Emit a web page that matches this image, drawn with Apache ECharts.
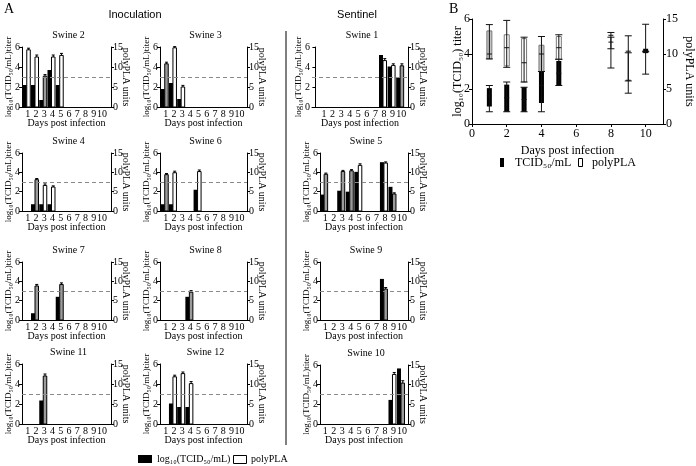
<!DOCTYPE html>
<html><head><meta charset="utf-8">
<script src="https://cdn.jsdelivr.net/npm/echarts@6/dist/echarts.min.js"></script>
<style>html,body{margin:0;padding:0;background:#fff}#c{width:696px;height:466px}</style>
</head><body><div id="c"></div>
<script>
// ---------------- Panel A data ----------------
const days = [1, 2, 3, 4, 5, 6, 7, 8, 9, 10];
const N = null;
const titerSwine2 = [2.2, 2.2, 0.7, 3.7, 2.2, N, N, N, N, N];
const polySwine2  = [14.3, 12.5, 7.7, 12.5, 12.9, N, N, N, N, N];
const errSwine2   = [0.4, 0.5, 0.4, 0.5, 0.5, N, N, N, N, N];
const titerSwine3 = [1.8, 2.4, 0.8, N, N, N, N, N, N, N];
const polySwine3  = [10.8, 14.8, 5.0, N, N, N, N, N, N, N];
const errSwine3   = [0.4, 0.3, 0.4, N, N, N, N, N, N, N];
const titerSwine1 = [N, N, N, N, N, N, N, 5.2, 4.05, 2.9];
const polySwine1  = [N, N, N, N, N, N, N, 11.6, 10.4, 10.3];
const errSwine1   = [N, N, N, N, N, N, N, 0.5, 0.4, 0.5];
const titerSwine4 = [N, 0.7, 0.7, 0.7, N, N, N, N, N, N];
const polySwine4  = [N, 8.1, 6.6, 6.2, N, N, N, N, N, N];
const errSwine4   = [N, 0.3, 0.4, 0.3, N, N, N, N, N, N];
const titerSwine6 = [0.7, 0.7, N, N, 2.2, N, N, N, N, N];
const polySwine6  = [9.4, 9.9, N, N, 10.2, N, N, N, N, N];
const errSwine6   = [0.3, 0.4, N, N, 0.4, N, N, N, N, N];
const titerSwine5 = [1.7, N, 2.1, 2.0, 4.05, N, N, 5.05, 2.5, N];
const polySwine5  = [9.5, N, 10.2, 10.4, 11.8, N, N, 12.4, 4.4, N];
const errSwine5   = [0.3, N, 0.3, 0.3, 0.4, N, N, 0.3, 0.3, N];
const titerSwine7 = [N, 0.7, N, N, 2.4, N, N, N, N, N];
const polySwine7  = [N, 8.8, N, N, 9.2, N, N, N, N, N];
const errSwine7   = [N, 0.4, N, N, 0.4, N, N, N, N, N];
const titerSwine8 = [N, N, N, 2.4, N, N, N, N, N, N];
const polySwine8  = [N, N, N, 7.2, N, N, N, N, N, N];
const errSwine8   = [N, N, N, 0.4, N, N, N, N, N, N];
const titerSwine9 = [N, N, N, N, N, N, N, 4.25, N, N];
const polySwine9  = [N, N, N, N, N, N, N, 8.0, N, N];
const errSwine9   = [N, N, N, N, N, N, N, 0.4, N, N];
const titerSwine11 = [N, N, 2.35, N, N, N, N, N, N, N];
const polySwine11  = [N, N, 12.0, N, N, N, N, N, N, N];
const errSwine11   = [N, N, 0.5, N, N, N, N, N, N, N];
const titerSwine12 = [N, 2.05, 1.7, 1.7, N, N, N, N, N, N];
const polySwine12  = [N, 11.8, 12.6, 10.1, N, N, N, N, N, N];
const errSwine12   = [N, 0.4, 0.4, 0.5, N, N, N, N, N, N];
const titerSwine10 = [N, N, N, N, N, N, N, N, 2.45, 5.65];
const polySwine10  = [N, N, N, N, N, N, N, N, 12.6, 10.4];
const errSwine10   = [N, N, N, N, N, N, N, N, 0.5, 0.6];
// days whose polyPLA bar is shaded grey in the figure
const shadedDays = {
  'Swine 2': [3], 'Swine 3': [1], 'Swine 1': [10], 'Swine 4': [2], 'Swine 6': [1],
  'Swine 5': [1, 3, 4, 9], 'Swine 7': [2, 5], 'Swine 8': [4], 'Swine 9': [8],
  'Swine 11': [3], 'Swine 12': [], 'Swine 10': [10]
};
const thresholdTiter = 3;
const titerTicks = [0, 2, 4, 6];
const polyTicks = [0, 5, 10, 15];

const panels = [
  ['Swine 2', titerSwine2, polySwine2, errSwine2],
  ['Swine 3', titerSwine3, polySwine3, errSwine3],
  ['Swine 1', titerSwine1, polySwine1, errSwine1],
  ['Swine 4', titerSwine4, polySwine4, errSwine4],
  ['Swine 6', titerSwine6, polySwine6, errSwine6],
  ['Swine 5', titerSwine5, polySwine5, errSwine5],
  ['Swine 7', titerSwine7, polySwine7, errSwine7],
  ['Swine 8', titerSwine8, polySwine8, errSwine8],
  ['Swine 9', titerSwine9, polySwine9, errSwine9],
  ['Swine 11', titerSwine11, polySwine11, errSwine11],
  ['Swine 12', titerSwine12, polySwine12, errSwine12],
  ['Swine 10', titerSwine10, polySwine10, errSwine10]
];

// ---------------- Panel B data ----------------
const daysB = [1, 2, 3, 4, 5, 8, 9, 10];
// [min, q1, median, q3, max]
const titerStatsB = [
  [0.7, 1.0, 1.6, 2.05, 2.2],
  [0.7, 0.7, 1.5, 2.25, 2.4],
  [0.7, 0.7, 1.4, 2.1, 2.1],
  [0.7, 1.2, 2.2, 3.0, 3.0],
  [2.2, 2.2, 2.9, 3.6, 3.7],
  [4.3, 5.07, 5.07, 5.07, 5.23],
  [2.46, 2.5, 2.5, 2.5, 4.07],
  [2.85, 4.05, 4.15, 4.3, 5.7]
];
const polyStatsB = [
  [9.3, 9.3, 10.0, 13.3, 14.2],
  [8.1, 8.3, 10.9, 12.75, 14.8],
  [6.0, 6.0, 8.75, 12.2, 12.4],
  [7.5, 7.5, 10.0, 11.25, 12.5],
  [9.25, 9.25, 10.9, 12.5, 12.75],
  [8.0, 11.7, 11.7, 11.7, 12.4],
  [4.4, 10.4, 10.4, 10.4, 12.6],
  [10.3, 10.35, 10.35, 10.35, 10.4]
];
const shadedDaysB = [1, 4];
const xTicksB = [0, 2, 4, 6, 8, 10];

// ---------------- layout ----------------
const layoutA = [
  {l: 22, t: 47, w: 89, h: 60, xmin: 0.3, xmax: 11.1},
  {l: 160, t: 47, w: 87, h: 60, xmin: 0.3, xmax: 10.9},
  {l: 312, t: 47, w: 96, h: 60, xmin: -0.4, xmax: 10.8},
  {l: 22, t: 153, w: 89, h: 58, xmin: 0.3, xmax: 11.1},
  {l: 160, t: 153, w: 87, h: 58, xmin: 0.3, xmax: 10.9},
  {l: 320, t: 153, w: 88, h: 58, xmin: 0.4, xmax: 10.7},
  {l: 22, t: 262, w: 89, h: 58, xmin: 0.3, xmax: 11.1},
  {l: 160, t: 262, w: 87, h: 58, xmin: 0.3, xmax: 10.9},
  {l: 320, t: 262, w: 88, h: 58, xmin: 0.4, xmax: 10.7},
  {l: 22, t: 364, w: 89, h: 60, xmin: 0.3, xmax: 11.1},
  {l: 160, t: 364, w: 87, h: 60, xmin: 0.3, xmax: 10.9},
  {l: 320, t: 365, w: 88, h: 59, xmin: 0.4, xmax: 10.7}
];
const layoutB = {l: 472, t: 19, w: 191, h: 105};

const SERIF = '"Liberation Serif", "DejaVu Serif", serif';
const SANS = '"Liberation Sans", Arial, sans-serif';

const grid = [], xAxis = [], yAxis = [], series = [], graphic = [];

function txt(x, y, s, size, family, align) {
  graphic.push({type: 'text', x: x, y: y, silent: true,
    style: {text: s, font: size + 'px ' + family, fill: '#000',
      align: align || 'center', verticalAlign: 'middle',
      textAlign: align || 'center', textVerticalAlign: 'middle'}});
}

panels.forEach(function (p, i) {
  const L = layoutA[i];
  const name = p[0], titer = p[1], poly = p[2], err = p[3];
  const shaded = shadedDays[name];
  grid.push({left: L.l, top: L.t, width: L.w, height: L.h});
  const axisStyle = {lineStyle: {color: '#000', width: 1}};
  xAxis.push({
    gridIndex: i, type: 'value', min: L.xmin, max: L.xmax,
    axisLine: {show: true, onZero: false, lineStyle: {color: '#000'}},
    axisTick: {show: false}, splitLine: {show: false},
    axisLabel: {customValues: days, color: '#000', fontFamily: SERIF, fontSize: 10, margin: 2},
    name: 'Days post infection', nameLocation: 'middle', nameGap: 11, nameMoveOverlap: false,
    nameTextStyle: {color: '#000', fontFamily: SERIF, fontSize: 10}
  });
  yAxis.push({
    gridIndex: i, type: 'value', min: 0, max: 6, interval: 2, position: 'left',
    axisLine: Object.assign({show: true}, axisStyle),
    axisTick: {show: true, length: 3, lineStyle: {color: '#000'}},
    splitLine: {show: false},
    axisLabel: {customValues: titerTicks, color: '#000', fontFamily: SERIF, fontSize: 10, margin: 2},
    name: 'log\u2081\u2080(TCID\u2085\u2080/mL)titer', nameLocation: 'middle', nameRotate: 90, nameGap: 9,
    nameMoveOverlap: false,
    nameTextStyle: {color: '#000', fontFamily: SERIF, fontSize: 9}
  });
  yAxis.push({
    gridIndex: i, type: 'value', min: 0, max: 15, interval: 5, position: 'right',
    axisLine: Object.assign({show: true}, axisStyle),
    axisTick: {show: true, length: 3, lineStyle: {color: '#000'}},
    splitLine: {show: false},
    axisLabel: {customValues: polyTicks, color: '#000', fontFamily: SERIF, fontSize: 10, margin: 2},
    name: 'polyPLA units', nameLocation: 'middle', nameRotate: -90, nameGap: 10,
    nameMoveOverlap: false,
    nameTextStyle: {color: '#000', fontFamily: SERIF, fontSize: 10}
  });
  const tData = [], pData = [];
  days.forEach(function (d, k) {
    if (titer[k] != null) tData.push([d, titer[k]]);
    if (poly[k] != null) pData.push([d, poly[k], err[k]]);
  });
  series.push({
    type: 'custom', xAxisIndex: i, yAxisIndex: 2 * i, data: tData, encode: {x: 0, y: 1},
    silent: true, z: 2,
    renderItem: function (params, api) {
      const d = api.value(0), v = api.value(1);
      const top = api.coord([d, v]), base = api.coord([d, 0]);
      return {type: 'rect', shape: {x: top[0] - 5, y: top[1], width: 4, height: base[1] - top[1]},
        style: {fill: '#000'}};
    },
    markLine: {silent: true, symbol: ['none', 'none'], label: {show: false},
      lineStyle: {color: '#8a8a8a', type: [4, 3], width: 1},
      data: [{yAxis: thresholdTiter}]}
  });
  series.push({
    type: 'custom', xAxisIndex: i, yAxisIndex: 2 * i + 1, data: pData, encode: {x: 0, y: 1},
    silent: true, z: 3,
    renderItem: function (params, api) {
      const d = api.value(0), v = api.value(1), e = api.value(2);
      const top = api.coord([d, v]), base = api.coord([d, 0]), et = api.coord([d, v + e]);
      const x0 = top[0] - 1, w = 3.5, cx = x0 + w / 2;
      const isShaded = shaded.indexOf(d) >= 0;
      return {type: 'group', children: [
        {type: 'rect', shape: {x: x0, y: top[1], width: w, height: base[1] - top[1]},
          style: {fill: isShaded ? '#9b9b9b' : '#fff', stroke: '#000', lineWidth: 1}},
        {type: 'line', shape: {x1: cx, y1: top[1], x2: cx, y2: et[1]}, style: {stroke: '#000', lineWidth: 1}},
        {type: 'line', shape: {x1: cx - 1.5, y1: et[1], x2: cx + 1.5, y2: et[1]}, style: {stroke: '#000', lineWidth: 1}}
      ]};
    }
  });
  txt(L.l + L.w / 2 + 2, L.t - 12, name, 10, SERIF);
});

// ---------------- Panel B ----------------
const gi = panels.length;
grid.push({left: layoutB.l, top: layoutB.t, width: layoutB.w, height: layoutB.h});
xAxis.push({
  gridIndex: gi, type: 'value', min: 0, max: 11,
  axisLine: {show: true, onZero: false, lineStyle: {color: '#000'}},
  axisTick: {show: true, customValues: xTicksB, length: 3, lineStyle: {color: '#000'}},
  splitLine: {show: false},
  axisLabel: {customValues: xTicksB, color: '#000', fontFamily: SERIF, fontSize: 12, margin: 4},
  name: 'Days post infection', nameLocation: 'middle', nameGap: 21, nameMoveOverlap: false,
  nameTextStyle: {color: '#000', fontFamily: SERIF, fontSize: 12}
});
yAxis.push({
  gridIndex: gi, type: 'value', min: 0, max: 6, interval: 2, position: 'left',
  axisLine: {show: true, lineStyle: {color: '#000'}},
  axisTick: {show: true, length: 3, lineStyle: {color: '#000'}}, splitLine: {show: false},
  axisLabel: {customValues: titerTicks, color: '#000', fontFamily: SERIF, fontSize: 12, margin: 2},
  name: 'log\u2081\u2080(TCID\u2085\u2080) titer', nameLocation: 'middle', nameRotate: 90, nameGap: 8,
  nameMoveOverlap: false,
  nameTextStyle: {color: '#000', fontFamily: SERIF, fontSize: 12}
});
yAxis.push({
  gridIndex: gi, type: 'value', min: 0, max: 15, interval: 5, position: 'right',
  axisLine: {show: true, lineStyle: {color: '#000'}},
  axisTick: {show: true, length: 3, lineStyle: {color: '#000'}}, splitLine: {show: false},
  axisLabel: {customValues: polyTicks, color: '#000', fontFamily: SERIF, fontSize: 12, margin: 3},
  name: 'polyPLA units', nameLocation: 'middle', nameRotate: -90, nameGap: 20,
  nameMoveOverlap: false,
  nameTextStyle: {color: '#000', fontFamily: SERIF, fontSize: 12}
});
function boxRender(kind) {
  return function (params, api) {
    const d = api.value(0);
    const pMin = api.coord([d, api.value(1)]), pQ1 = api.coord([d, api.value(2)]);
    const pMed = api.coord([d, api.value(3)]), pQ3 = api.coord([d, api.value(4)]);
    const pMax = api.coord([d, api.value(5)]);
    const cx = pMin[0], bw = 5, cw = 7;
    const children = [];
    if (pQ1[1] - pQ3[1] > 0.5) {
      const shaded = shadedDaysB.indexOf(d) >= 0;
      children.push({type: 'rect', shape: {x: cx - bw / 2, y: pQ3[1], width: bw, height: pQ1[1] - pQ3[1]},
        style: kind === 'titer' ? {fill: '#000'} :
          {fill: shaded ? '#c4c4c4' : '#fff', stroke: '#777', lineWidth: 1}});
    }
    const ln = function (x1, y1, x2, y2) {
      children.push({type: 'line', shape: {x1: x1, y1: y1, x2: x2, y2: y2}, style: {stroke: '#111', lineWidth: 1}});
    };
    ln(cx, pMin[1], cx, pMax[1]);
    ln(cx - cw / 2, pMin[1], cx + cw / 2, pMin[1]);
    ln(cx - cw / 2, pMax[1], cx + cw / 2, pMax[1]);
    ln(cx - cw / 2 + 1, pMed[1], cx + cw / 2 - 1, pMed[1]);
    return {type: 'group', children: children};
  };
}
series.push({
  type: 'custom', xAxisIndex: gi, yAxisIndex: 2 * gi, silent: true, encode: {x: 0, y: [1, 5]},
  data: daysB.map(function (d, k) { return [d].concat(titerStatsB[k]); }),
  renderItem: boxRender('titer')
});
series.push({
  type: 'custom', xAxisIndex: gi, yAxisIndex: 2 * gi + 1, silent: true, encode: {x: 0, y: [1, 5]},
  data: daysB.map(function (d, k) { return [d].concat(polyStatsB[k]); }),
  renderItem: boxRender('poly')
});

// ---------------- texts / legend ----------------
txt(4, 9, 'A', 14, SERIF, 'left');
txt(449, 9, 'B', 14, SERIF, 'left');
txt(135, 15, 'Inoculation', 11, SANS);
txt(357, 15, 'Sentinel', 11, SANS);
graphic.push({type: 'line', silent: true, shape: {x1: 286, y1: 31, x2: 286, y2: 445}, style: {stroke: '#000', lineWidth: 1}});
// legend A
graphic.push({type: 'rect', silent: true, shape: {x: 138, y: 455, width: 14, height: 8}, style: {fill: '#000'}});
txt(157, 459, 'log\u2081\u2080(TCID\u2085\u2080/mL)', 10, SERIF, 'left');
graphic.push({type: 'rect', silent: true, shape: {x: 233.5, y: 455.5, width: 13, height: 8}, style: {fill: '#fff', stroke: '#000', lineWidth: 1}});
txt(251, 459, 'polyPLA', 10, SERIF, 'left');
// legend B
graphic.push({type: 'rect', silent: true, shape: {x: 500, y: 158, width: 4, height: 9}, style: {fill: '#000'}});
txt(515, 163, 'TCID\u2085\u2080/mL', 12, SERIF, 'left');
graphic.push({type: 'rect', silent: true, shape: {x: 578.5, y: 158.5, width: 4, height: 8}, style: {fill: '#fff', stroke: '#000', lineWidth: 1}});
txt(592, 163, 'polyPLA', 12, SERIF, 'left');

const chart = echarts.init(document.getElementById('c'), null, {renderer: 'canvas'});
chart.setOption({animation: false, backgroundColor: '#fff', grid: grid, xAxis: xAxis, yAxis: yAxis, series: series, graphic: graphic});
</script></body></html>
